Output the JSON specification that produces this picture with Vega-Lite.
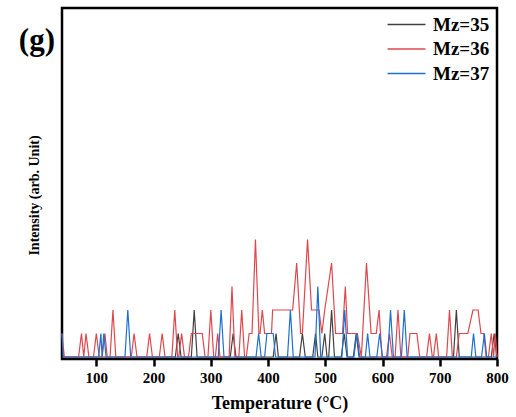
{
  "$schema": "https://vega.github.io/schema/vega-lite/v6.json",
  "autosize": "none",
  "width": 435,
  "height": 351,
  "padding": {"left": 62, "top": 8, "right": 19, "bottom": 58},
  "background": "white",
  "title": {"text": "(g)", "anchor": "end", "frame": "group", "orient": "left", "angle": 0, "offset": -28, "dy": 42, "align": "left", "baseline": "alphabetic", "fontSize": 31, "font": "Liberation Serif", "fontWeight": "bold", "color": "black"},
  "config": {
    "view": {"stroke": "black", "strokeWidth": 2.5},
    "font": "Liberation Serif"
  },
  "datasets": {
    "d": [
      {"T":40,"I":0,"s":"Mz=35"},
      {"T":238,"I":0,"s":"Mz=35"},{"T":243,"I":1,"s":"Mz=35"},{"T":248,"I":0,"s":"Mz=35"},
      {"T":266,"I":0,"s":"Mz=35"},{"T":271,"I":2,"s":"Mz=35"},{"T":276,"I":0,"s":"Mz=35"},
      {"T":334,"I":0,"s":"Mz=35"},{"T":339,"I":1,"s":"Mz=35"},{"T":344,"I":0,"s":"Mz=35"},
      {"T":409,"I":0,"s":"Mz=35"},{"T":414,"I":1,"s":"Mz=35"},{"T":418,"I":0,"s":"Mz=35"},
      {"T":455,"I":0,"s":"Mz=35"},{"T":460,"I":1,"s":"Mz=35"},{"T":465,"I":0,"s":"Mz=35"},
      {"T":478,"I":0,"s":"Mz=35"},{"T":483,"I":1,"s":"Mz=35"},{"T":487,"I":0,"s":"Mz=35"},
      {"T":494,"I":0,"s":"Mz=35"},{"T":499,"I":1,"s":"Mz=35"},{"T":503,"I":0,"s":"Mz=35"},
      {"T":506,"I":0,"s":"Mz=35"},{"T":511,"I":2,"s":"Mz=35"},{"T":516,"I":0,"s":"Mz=35"},
      {"T":528,"I":0,"s":"Mz=35"},{"T":533,"I":1,"s":"Mz=35"},{"T":538,"I":0,"s":"Mz=35"},
      {"T":549,"I":0,"s":"Mz=35"},{"T":554,"I":1,"s":"Mz=35"},{"T":559,"I":0,"s":"Mz=35"},
      {"T":724,"I":0,"s":"Mz=35"},{"T":729,"I":2,"s":"Mz=35"},{"T":734,"I":0,"s":"Mz=35"},
      {"T":790,"I":0,"s":"Mz=35"},{"T":795,"I":1,"s":"Mz=35"},{"T":800,"I":0,"s":"Mz=35"},

      {"T":40,"I":1,"s":"Mz=36"},{"T":44,"I":0,"s":"Mz=36"},
      {"T":69,"I":0,"s":"Mz=36"},{"T":74,"I":1,"s":"Mz=36"},{"T":78,"I":0,"s":"Mz=36"},{"T":82,"I":1,"s":"Mz=36"},{"T":87,"I":0,"s":"Mz=36"},
      {"T":95,"I":0,"s":"Mz=36"},{"T":100,"I":1,"s":"Mz=36"},{"T":105,"I":0,"s":"Mz=36"},
      {"T":110,"I":0,"s":"Mz=36"},{"T":115,"I":1,"s":"Mz=36"},{"T":119,"I":0,"s":"Mz=36"},
      {"T":124,"I":0,"s":"Mz=36"},{"T":129,"I":2,"s":"Mz=36"},{"T":134,"I":0,"s":"Mz=36"},
      {"T":161,"I":0,"s":"Mz=36"},{"T":166,"I":1,"s":"Mz=36"},{"T":171,"I":0,"s":"Mz=36"},
      {"T":188,"I":0,"s":"Mz=36"},{"T":193,"I":1,"s":"Mz=36"},{"T":198,"I":0,"s":"Mz=36"},
      {"T":210,"I":0,"s":"Mz=36"},{"T":215,"I":1,"s":"Mz=36"},{"T":220,"I":0,"s":"Mz=36"},
      {"T":232,"I":0,"s":"Mz=36"},{"T":237,"I":2,"s":"Mz=36"},{"T":242,"I":0,"s":"Mz=36"},
      {"T":244,"I":0,"s":"Mz=36"},{"T":249,"I":1,"s":"Mz=36"},{"T":254,"I":0,"s":"Mz=36"},
      {"T":261,"I":0,"s":"Mz=36"},{"T":266,"I":1,"s":"Mz=36"},{"T":285,"I":1,"s":"Mz=36"},{"T":290,"I":0,"s":"Mz=36"},
      {"T":295,"I":0,"s":"Mz=36"},{"T":300,"I":2,"s":"Mz=36"},{"T":305,"I":0,"s":"Mz=36"},
      {"T":308,"I":0,"s":"Mz=36"},{"T":312,"I":1,"s":"Mz=36"},{"T":316,"I":0,"s":"Mz=36"},
      {"T":332,"I":0,"s":"Mz=36"},{"T":337,"I":3,"s":"Mz=36"},{"T":342,"I":0,"s":"Mz=36"},
      {"T":349,"I":0,"s":"Mz=36"},{"T":354,"I":2,"s":"Mz=36"},{"T":359,"I":0,"s":"Mz=36"},
      {"T":362,"I":0,"s":"Mz=36"},{"T":367,"I":1,"s":"Mz=36"},{"T":372,"I":1,"s":"Mz=36"},{"T":378,"I":5,"s":"Mz=36"},{"T":384,"I":1,"s":"Mz=36"},{"T":386,"I":1,"s":"Mz=36"},{"T":390,"I":2,"s":"Mz=36"},{"T":394,"I":1,"s":"Mz=36"},{"T":406,"I":1,"s":"Mz=36"},{"T":408,"I":2,"s":"Mz=36"},{"T":443,"I":2,"s":"Mz=36"},{"T":450,"I":4,"s":"Mz=36"},{"T":457,"I":1,"s":"Mz=36"},{"T":460,"I":1,"s":"Mz=36"},{"T":469,"I":5,"s":"Mz=36"},{"T":476,"I":2,"s":"Mz=36"},{"T":489,"I":2,"s":"Mz=36"},{"T":494,"I":1,"s":"Mz=36"},{"T":499,"I":2,"s":"Mz=36"},{"T":511,"I":4,"s":"Mz=36"},{"T":518,"I":1,"s":"Mz=36"},{"T":530,"I":1,"s":"Mz=36"},{"T":535,"I":3,"s":"Mz=36"},{"T":539,"I":1,"s":"Mz=36"},{"T":556,"I":1,"s":"Mz=36"},{"T":563,"I":0,"s":"Mz=36"},{"T":572,"I":4,"s":"Mz=36"},{"T":580,"I":1,"s":"Mz=36"},{"T":589,"I":1,"s":"Mz=36"},{"T":594,"I":2,"s":"Mz=36"},{"T":599,"I":0,"s":"Mz=36"},
      {"T":607,"I":0,"s":"Mz=36"},{"T":612,"I":1,"s":"Mz=36"},{"T":617,"I":0,"s":"Mz=36"},
      {"T":622,"I":0,"s":"Mz=36"},{"T":627,"I":2,"s":"Mz=36"},{"T":632,"I":0,"s":"Mz=36"},
      {"T":644,"I":0,"s":"Mz=36"},{"T":648,"I":1,"s":"Mz=36"},{"T":660,"I":1,"s":"Mz=36"},{"T":665,"I":0,"s":"Mz=36"},
      {"T":677,"I":0,"s":"Mz=36"},{"T":682,"I":1,"s":"Mz=36"},{"T":687,"I":0,"s":"Mz=36"},{"T":689,"I":0,"s":"Mz=36"},{"T":694,"I":1,"s":"Mz=36"},{"T":698,"I":0,"s":"Mz=36"},
      {"T":712,"I":0,"s":"Mz=36"},{"T":717,"I":2,"s":"Mz=36"},{"T":722,"I":0,"s":"Mz=36"},
      {"T":729,"I":0,"s":"Mz=36"},{"T":734,"I":1,"s":"Mz=36"},{"T":749,"I":1,"s":"Mz=36"},{"T":758,"I":2,"s":"Mz=36"},{"T":767,"I":2,"s":"Mz=36"},{"T":772,"I":1,"s":"Mz=36"},{"T":777,"I":1,"s":"Mz=36"},{"T":781,"I":0,"s":"Mz=36"},
      {"T":785,"I":0,"s":"Mz=36"},{"T":790,"I":1,"s":"Mz=36"},{"T":794,"I":0,"s":"Mz=36"},{"T":797,"I":1,"s":"Mz=36"},{"T":800,"I":0,"s":"Mz=36"},

      {"T":40,"I":1,"s":"Mz=37"},{"T":42,"I":0,"s":"Mz=37"},
      {"T":104,"I":0,"s":"Mz=37"},{"T":108,"I":1,"s":"Mz=37"},{"T":110,"I":0,"s":"Mz=37"},{"T":113,"I":1,"s":"Mz=37"},{"T":117,"I":0,"s":"Mz=37"},
      {"T":150,"I":0,"s":"Mz=37"},{"T":155,"I":2,"s":"Mz=37"},{"T":160,"I":0,"s":"Mz=37"},
      {"T":313,"I":0,"s":"Mz=37"},{"T":318,"I":2,"s":"Mz=37"},{"T":323,"I":0,"s":"Mz=37"},
      {"T":379,"I":0,"s":"Mz=37"},{"T":383.5,"I":1,"s":"Mz=37"},{"T":388,"I":0,"s":"Mz=37"},
      {"T":394,"I":0,"s":"Mz=37"},{"T":398,"I":1,"s":"Mz=37"},{"T":409,"I":1,"s":"Mz=37"},{"T":413,"I":0,"s":"Mz=37"},
      {"T":434,"I":0,"s":"Mz=37"},{"T":439,"I":2,"s":"Mz=37"},{"T":444,"I":0,"s":"Mz=37"},
      {"T":482,"I":0,"s":"Mz=37"},{"T":487,"I":3,"s":"Mz=37"},{"T":492,"I":0,"s":"Mz=37"},
      {"T":529,"I":0,"s":"Mz=37"},{"T":534,"I":2,"s":"Mz=37"},{"T":539,"I":0,"s":"Mz=37"},
      {"T":550,"I":0,"s":"Mz=37"},{"T":555,"I":1,"s":"Mz=37"},{"T":560,"I":0,"s":"Mz=37"},
      {"T":570,"I":0,"s":"Mz=37"},{"T":574,"I":1,"s":"Mz=37"},{"T":578,"I":0,"s":"Mz=37"},
      {"T":590,"I":0,"s":"Mz=37"},{"T":595,"I":1,"s":"Mz=37"},{"T":600,"I":0,"s":"Mz=37"},
      {"T":609,"I":0,"s":"Mz=37"},{"T":614,"I":2,"s":"Mz=37"},{"T":619,"I":0,"s":"Mz=37"},
      {"T":633,"I":0,"s":"Mz=37"},{"T":638,"I":2,"s":"Mz=37"},{"T":643,"I":0,"s":"Mz=37"},
      {"T":755,"I":0,"s":"Mz=37"},{"T":759,"I":1,"s":"Mz=37"},{"T":763,"I":0,"s":"Mz=37"},
      {"T":773,"I":0,"s":"Mz=37"},{"T":778,"I":1,"s":"Mz=37"},{"T":782,"I":0,"s":"Mz=37"},
      {"T":800,"I":0,"s":"Mz=37"}
    ]
  },
  "data": {"name": "d"},
  "mark": {"type": "line", "strokeWidth": 1.2, "interpolate": "linear"},
  "encoding": {
    "x": {
      "field": "T", "type": "quantitative",
      "scale": {"domain": [40, 800], "nice": false, "zero": false},
      "axis": {
        "title": "Temperature (°C)",
        "values": [100, 200, 300, 400, 500, 600, 700, 800],
        "grid": false, "domain": false,
        "tickColor": "black", "tickWidth": 2.5, "tickSize": 7,
        "labelFont": "Liberation Serif", "labelFontWeight": "bold", "labelFontSize": 15, "labelColor": "black", "labelPadding": 4,
        "labelFlush": false,
        "titleFont": "Liberation Serif", "titleFontWeight": "bold", "titleFontSize": 18, "titleColor": "black",
        "titleY": 44, "titleBaseline": "middle"
      }
    },
    "y": {
      "field": "I", "type": "quantitative",
      "scale": {"domain": [-0.085, 14.85], "nice": false, "zero": false},
      "axis": {
        "title": "Intensity (arb. Unit)",
        "ticks": false, "labels": false, "domain": false, "grid": false,
        "titleFont": "Liberation Serif", "titleFontWeight": "bold", "titleFontSize": 14, "titleColor": "black",
        "titleX": -28, "titleY": 187, "titleAngle": -90, "titleAlign": "center", "titleBaseline": "middle"
      }
    },
    "color": {
      "field": "s", "type": "nominal",
      "scale": {"domain": ["Mz=35", "Mz=36", "Mz=37"], "range": ["#404040", "#e0474c", "#1f6fd1"]},
      "legend": {
        "title": null, "orient": "none", "legendX": 335, "legendY": 7,
        "symbolType": "M-4,0H4", "symbolSize": 90, "symbolStrokeWidth": 1.5,
        "labelFont": "Liberation Serif", "labelFontWeight": "bold", "labelFontSize": 19, "labelColor": "black",
        "labelOffset": 17, "rowPadding": 4.5, "padding": 0
      }
    },
    "order": {"field": "T", "type": "quantitative"}
  }
}
